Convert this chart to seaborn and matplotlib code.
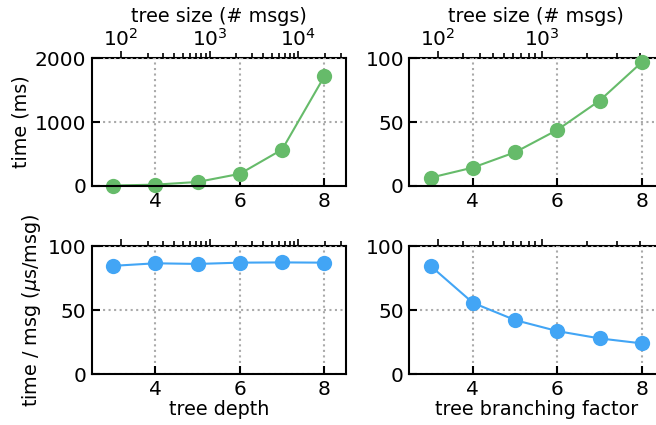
import numpy as np
import pandas as pd
import seaborn as sns
import matplotlib
matplotlib.use("Agg")
import matplotlib.pyplot as plt

# data
depth = [3, 4, 5, 6, 7, 8]
depth_time_ms = [7, 21, 63, 190, 570, 1715]
depth_time_per_msg = [84.5, 86.5, 86, 87, 87.2, 87]

branching = [3, 4, 5, 6, 7, 8]
branch_time_ms = [6.5, 14.4, 26.4, 43.9, 66.8, 96.9]
branch_time_per_msg = [84.4, 55.6, 42.1, 33.5, 27.8, 23.9]

# tree size = branching ** (depth + 1)
fixed_branching = 3
fixed_depth = 3

green = "#66bb6a"
blue = "#42a5f5"

top_major = [1e2, 1e3, 1e4]
top_major_labels = [r"$10^2$", r"$10^3$", r"$10^4$"]
top_minor = [m * 10.0 ** k for k in (2, 3, 4) for m in range(2, 10)]

df_depth = pd.DataFrame({"x": depth, "time": depth_time_ms, "per_msg": depth_time_per_msg})
df_branch = pd.DataFrame({"x": branching, "time": branch_time_ms, "per_msg": branch_time_per_msg})

sns.set_style("ticks")
plt.rcParams["font.family"] = ["DejaVu Sans"]
plt.rcParams["mathtext.default"] = "it"
plt.rcParams["text.color"] = "black"
plt.rcParams["axes.labelcolor"] = "black"
plt.rcParams["xtick.color"] = "black"
plt.rcParams["ytick.color"] = "black"

TICK_FS = 14.5
LABEL_FS = 13.8
XLIM = (2.5, 8.5)

fig, axes = plt.subplots(2, 2, figsize=(6.56, 4.25), dpi=100)
fig.subplots_adjust(left=0.140, right=1.011, bottom=0.12, top=0.8635,
                    wspace=0.252, hspace=0.469)


def size_funcs(kind):
    if kind == "depth":
        fwd = lambda d: fixed_branching ** (np.asarray(d, dtype=float) + 1)
        inv = lambda s: np.log(np.maximum(s, 1e-9)) / np.log(fixed_branching) - 1
    else:
        fwd = lambda b: np.maximum(np.asarray(b, dtype=float), 1e-9) ** (fixed_depth + 1)
        inv = lambda s: np.maximum(s, 1e-9) ** (1.0 / (fixed_depth + 1))
    return fwd, inv


def style_axis(ax, kind, show_top_labels):
    ax.set_xlim(*XLIM)
    ax.set_xticks([4, 6, 8])
    ax.grid(True, linestyle=":", color="#aaaaaa", linewidth=1.5)
    ax.tick_params(axis="both", direction="in", length=6, width=1.5,
                   top=False, right=False, labelsize=TICK_FS, pad=4)
    for sp in ax.spines.values():
        sp.set_linewidth(1.5)
        sp.set_color("black")
    ax.spines["top"].set_visible(False)

    fwd, inv = size_funcs(kind)
    lo, hi = fwd(XLIM[0]), fwd(XLIM[1])
    major = [(t, l) for t, l in zip(top_major, top_major_labels) if lo <= t <= hi]
    minor = [t for t in top_minor if lo <= t <= hi]

    sec = ax.secondary_xaxis("top", functions=(fwd, inv))
    sec.set_xticks([t for t, _ in major], labels=[l for _, l in major])
    sec.set_xticks(minor, minor=True)
    sec.tick_params(axis="x", which="major", direction="out", length=5, width=1.2,
                    labelsize=TICK_FS, pad=1, labeltop=show_top_labels)
    sec.tick_params(axis="x", which="minor", direction="out", length=3.5, width=1.2)
    sec.spines["top"].set_linewidth(1.5)
    sec.spines["top"].set_color("black")
    if show_top_labels:
        sec.set_xlabel("tree size (# msgs)", fontsize=LABEL_FS, labelpad=4)
    return sec


# top left: time vs depth
ax = axes[0, 0]
sns.lineplot(data=df_depth, x="x", y="time", ax=ax, color=green, marker="o",
             markersize=11, markeredgewidth=0, linewidth=1.5)
ax.set_ylim(0, 2000)
ax.set_yticks([0, 1000, 2000])
ax.set_ylabel("time (ms)", fontsize=LABEL_FS, labelpad=3)
ax.set_xlabel("")
style_axis(ax, "depth", True)

# top right: time vs branching factor
ax = axes[0, 1]
sns.lineplot(data=df_branch, x="x", y="time", ax=ax, color=green, marker="o",
             markersize=11, markeredgewidth=0, linewidth=1.5)
ax.set_ylim(0, 100)
ax.set_yticks([0, 50, 100])
ax.set_ylabel("")
ax.set_xlabel("")
style_axis(ax, "branch", True)

# bottom left: time per msg vs depth
ax = axes[1, 0]
sns.lineplot(data=df_depth, x="x", y="per_msg", ax=ax, color=blue, marker="o",
             markersize=11, markeredgewidth=0, linewidth=1.5)
ax.set_ylim(0, 100)
ax.set_yticks([0, 50, 100])
ax.set_ylabel(r"time / msg ($\mu$s/msg)", fontsize=LABEL_FS, labelpad=3)
ax.set_xlabel("tree depth", fontsize=LABEL_FS, labelpad=1)
style_axis(ax, "depth", False)

# bottom right: time per msg vs branching factor
ax = axes[1, 1]
sns.lineplot(data=df_branch, x="x", y="per_msg", ax=ax, color=blue, marker="o",
             markersize=11, markeredgewidth=0, linewidth=1.5)
ax.set_ylim(0, 100)
ax.set_yticks([0, 50, 100])
ax.set_ylabel("")
ax.set_xlabel("tree branching factor", fontsize=LABEL_FS, labelpad=1)
style_axis(ax, "branch", False)

for a in axes.flat:
    for line in a.get_lines():
        line.set_clip_on(False)

fig.savefig("out.png", dpi=100)
